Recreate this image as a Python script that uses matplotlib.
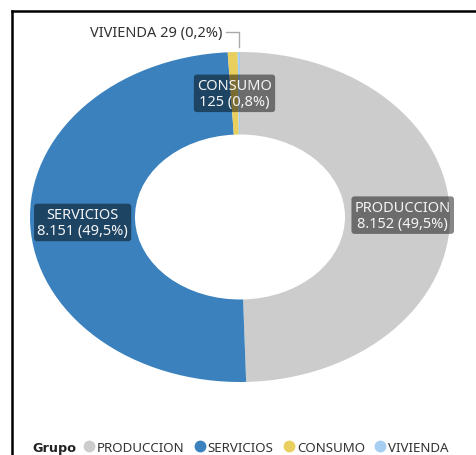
import numpy as np
import matplotlib
matplotlib.use("Agg")
from matplotlib import pyplot as plt
from matplotlib.lines import Line2D

# Datos del grafico
grupos = ["PRODUCCION", "SERVICIOS", "CONSUMO", "VIVIENDA"]
valores = [8152, 8151, 125, 29]
porcentajes = ["49,5%", "49,5%", "0,8%", "0,2%"]
textos_valor = ["8.152", "8.151", "125", "29"]
colores = ["#cccccc", "#3a81bd", "#e8cf5e", "#a6cef0"]

plt.rcParams["font.family"] = ["Noto Sans", "DejaVu Sans"]

W, H = 476, 456
fig = plt.figure(figsize=(W / 100, H / 100), dpi=100)

# marco negro (arriba e izquierda)
fig.add_artist(Line2D([11.5 / W, 11.5 / W], [0, 1 - 11.5 / H], color="black", lw=1.8))
fig.add_artist(Line2D([11.5 / W, 1], [1 - 11.5 / H, 1 - 11.5 / H], color="black", lw=1.8))

# Donut (eje estirado -> elipse como en la captura)
x0, x1, y0, y1 = 30, 450, 53, 383
ax = fig.add_axes([x0 / W, 1 - y1 / H, (x1 - x0) / W, (y1 - y0) / H])
wedges, _ = ax.pie(
    valores,
    colors=colores,
    startangle=90,
    counterclock=False,
    radius=1,
    wedgeprops=dict(width=0.5, edgecolor="none"),
)
ax.set_aspect("auto")
ax.set_xlim(-1, 1)
ax.set_ylim(-1, 1)
ax.axis("off")

caja = dict(boxstyle="round,pad=0.22,rounding_size=0.2", fc="black", ec="none", alpha=0.47)

for i, w in enumerate(wedges[:3]):
    ang = np.deg2rad((w.theta1 + w.theta2) / 2)
    r = 0.75
    if i == 0:
        r = 0.775
    ax.text(
        r * np.cos(ang),
        r * np.sin(ang),
        f"{grupos[i]}\n{textos_valor[i]} ({porcentajes[i]})",
        ha="center",
        va="center",
        fontsize=10.5,
        color="#f5f5f5",
        linespacing=1.1,
        bbox=caja,
    )

# etiqueta exterior para VIVIENDA
w = wedges[3]
ang = np.deg2rad((w.theta1 + w.theta2) / 2)
xe, ye = np.cos(ang), np.sin(ang)
ax.plot([xe, xe, xe - 0.06], [ye + 0.03, 1.12, 1.12], color="#aaaaaa", lw=1, clip_on=False)
ax.text(
    xe - 0.08,
    1.12,
    f"{grupos[3]} {textos_valor[3]} ({porcentajes[3]})",
    ha="right",
    va="center",
    fontsize=10.5,
    color="#333333",
)

# Leyenda
fig.text(32 / W, 1 - 448.5 / H, "Grupo", fontsize=9.2, fontweight="bold",
         family="DejaVu Sans", color="#222222", va="center")
manijas = [
    Line2D([], [], marker="o", ls="none", color=c, markersize=7.5) for c in colores
]
fig.legend(
    manijas,
    grupos,
    loc="center left",
    bbox_to_anchor=(82 / W, 1 - 448.5 / H),
    ncol=4,
    frameon=False,
    fontsize=9.6,
    handletextpad=0.1,
    columnspacing=0.65,
    handlelength=1.0,
    borderaxespad=0,
    borderpad=0,
    labelcolor="#333333",
)

fig.savefig("out.png", dpi=100, facecolor="white")
